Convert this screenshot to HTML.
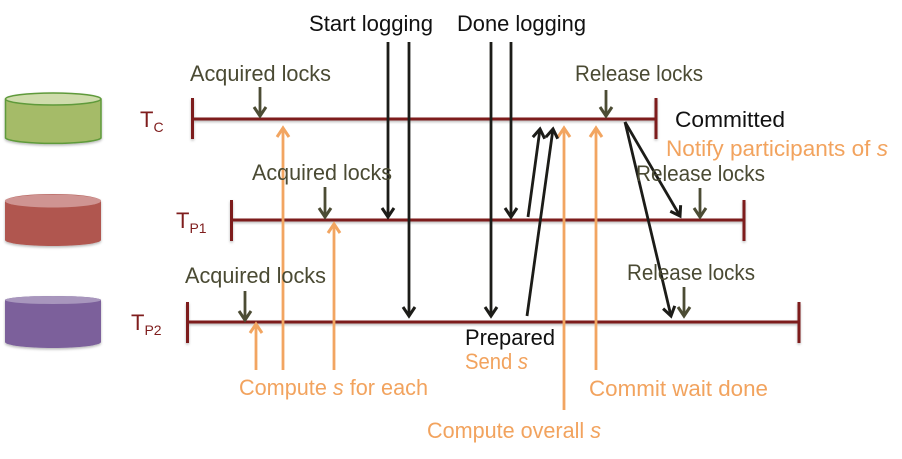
<!DOCTYPE html>
<html>
<head>
<meta charset="utf-8">
<style>
html,body{margin:0;padding:0;background:#fff;width:902px;height:459px;overflow:hidden}
svg{display:block}
text{font-family:"Liberation Sans",sans-serif;font-size:22px}
.b{fill:#111}
.d{fill:#4a4a33}
.o{fill:#f2a35e}
.r{fill:#7f1d1d}
.tl{stroke:#7d1a1a;stroke-width:3;fill:none}
.ak{stroke:#1c1c18;stroke-width:2.8;fill:none}
.ad{stroke:#4c4c34;stroke-width:2.8;fill:none}
.ao{stroke:#f2a561;stroke-width:2.8;fill:none}
</style>
</head>
<body>
<svg width="902" height="459" viewBox="0 0 902 459" xmlns="http://www.w3.org/2000/svg">
<defs>
<filter id="s" x="-10%" y="-10%" width="120%" height="130%"><feDropShadow dx="0" dy="1.5" stdDeviation="1.2" flood-color="#000" flood-opacity=".28"/></filter>
<marker id="mk" markerUnits="userSpaceOnUse" markerWidth="16" markerHeight="16" refX="11" refY="7.500" orient="auto"><path d="M2 1.500 L11 7.500 L2 13.500" fill="none" stroke="#1c1c18" stroke-width="3"/></marker>
<marker id="md" markerUnits="userSpaceOnUse" markerWidth="16" markerHeight="16" refX="11" refY="7.500" orient="auto"><path d="M2 1.500 L11 7.500 L2 13.500" fill="none" stroke="#4c4c34" stroke-width="3"/></marker>
<marker id="mo" markerUnits="userSpaceOnUse" markerWidth="16" markerHeight="16" refX="11" refY="7.500" orient="auto"><path d="M2 1.500 L11 7.500 L2 13.500" fill="none" stroke="#f2a561" stroke-width="3"/></marker>
</defs>

<!-- cylinders -->
<g filter="url(#s)">
<path d="M5.500 99 A48 6 0 0 1 101 99 V138 A48 6 0 0 1 5.500 138 Z" fill="#a5bb68" stroke="#5f9a3a" stroke-width="1.500"/>
<ellipse cx="53.200" cy="99" rx="47.700" ry="6" fill="#cfdcac" stroke="#5f9a3a" stroke-width="1.500"/>
</g>
<g filter="url(#s)">
<path d="M5 201 A48 7 0 0 1 101 201 V240 A48 6 0 0 1 5 240 Z" fill="#b05750"/>
<ellipse cx="53" cy="201" rx="48" ry="6.500" fill="#cf9492"/>
</g>
<g filter="url(#s)">
<path d="M5 300 A48 4 0 0 1 101 300 V342 A48 6 0 0 1 5 342 Z" fill="#7b619b"/>
<path d="M5 300 A48 4 0 0 1 101 300 A48 4 0 0 1 5 300 Z" fill="#a896bd"/>
</g>

<!-- timelines -->
<g filter="url(#s)">
<path class="tl" d="M192 119 H656 M192.500 98 V139 M656 98 V139"/>
<path class="tl" d="M231 220 H744 M231.500 200 V241 M744 200 V241"/>
<path class="tl" d="M187 322 H799 M187.500 302 V343 M799 302 V343"/>
</g>

<!-- orange arrows -->
<g class="ao">
<line x1="283" y1="370" x2="283" y2="128" marker-end="url(#mo)"/>
<line x1="334" y1="370" x2="334" y2="224" marker-end="url(#mo)"/>
<line x1="256" y1="370" x2="256" y2="324" marker-end="url(#mo)"/>
<line x1="564" y1="410" x2="564" y2="128" marker-end="url(#mo)"/>
<line x1="596" y1="370" x2="596" y2="128" marker-end="url(#mo)"/>
</g>

<!-- dark arrows -->
<g class="ad">
<line x1="260" y1="87" x2="260" y2="116" marker-end="url(#md)"/>
<line x1="325" y1="187" x2="325" y2="217" marker-end="url(#md)"/>
<line x1="245" y1="291" x2="245" y2="320" marker-end="url(#md)"/>
<line x1="606" y1="90" x2="606" y2="116" marker-end="url(#md)"/>
<line x1="700" y1="188" x2="700" y2="217" marker-end="url(#md)"/>
<line x1="684" y1="287" x2="684" y2="316" marker-end="url(#md)"/>
</g>

<!-- black arrows -->
<g class="ak">
<line x1="388" y1="42" x2="388" y2="217" marker-end="url(#mk)"/>
<line x1="409" y1="42" x2="409" y2="316" marker-end="url(#mk)"/>
<line x1="491" y1="42" x2="491" y2="316" marker-end="url(#mk)"/>
<line x1="511" y1="42" x2="511" y2="217" marker-end="url(#mk)"/>
<line x1="528" y1="217" x2="540" y2="129" marker-end="url(#mk)"/>
<line x1="527" y1="316" x2="553" y2="129" marker-end="url(#mk)"/>
<line x1="625" y1="122" x2="680" y2="216" marker-end="url(#mk)"/>
<line x1="625" y1="122" x2="671" y2="316" marker-end="url(#mk)"/>
</g>

<!-- labels -->
<text class="b" x="309" y="31" textLength="124" lengthAdjust="spacingAndGlyphs">Start logging</text>
<text class="b" x="457" y="31" textLength="129" lengthAdjust="spacingAndGlyphs">Done logging</text>
<text class="d" x="190" y="81" textLength="141" lengthAdjust="spacingAndGlyphs">Acquired locks</text>
<text class="d" x="252" y="180" textLength="140" lengthAdjust="spacingAndGlyphs">Acquired locks</text>
<text class="d" x="185" y="283" textLength="141" lengthAdjust="spacingAndGlyphs">Acquired locks</text>
<text class="d" x="575" y="81" textLength="128" lengthAdjust="spacingAndGlyphs">Release locks</text>
<text class="d" x="636" y="181" textLength="129" lengthAdjust="spacingAndGlyphs">Release locks</text>
<text class="d" x="627" y="280" textLength="128" lengthAdjust="spacingAndGlyphs">Release locks</text>
<text class="b" x="675" y="127" textLength="110" lengthAdjust="spacingAndGlyphs">Committed</text>
<text class="o" x="666" y="156" textLength="222" lengthAdjust="spacingAndGlyphs">Notify participants of <tspan font-style="italic">s</tspan></text>
<text class="b" x="465" y="345" textLength="90" lengthAdjust="spacingAndGlyphs">Prepared</text>
<text class="o" x="465" y="369" textLength="63" lengthAdjust="spacingAndGlyphs">Send <tspan font-style="italic">s</tspan></text>
<text class="o" x="239" y="395" textLength="189" lengthAdjust="spacingAndGlyphs">Compute <tspan font-style="italic">s</tspan> for each</text>
<text class="o" x="589" y="396" textLength="179" lengthAdjust="spacingAndGlyphs">Commit wait done</text>
<text class="o" x="427" y="438" textLength="174" lengthAdjust="spacingAndGlyphs">Compute overall <tspan font-style="italic">s</tspan></text>

<text class="r" x="140" y="127" style="font-size:22px">T<tspan dy="5" style="font-size:14px">C</tspan></text>
<text class="r" x="176" y="228" style="font-size:22px">T<tspan dy="5" style="font-size:14px">P1</tspan></text>
<text class="r" x="131" y="330" style="font-size:22px">T<tspan dy="5" style="font-size:14px">P2</tspan></text>
</svg>
</body>
</html>
